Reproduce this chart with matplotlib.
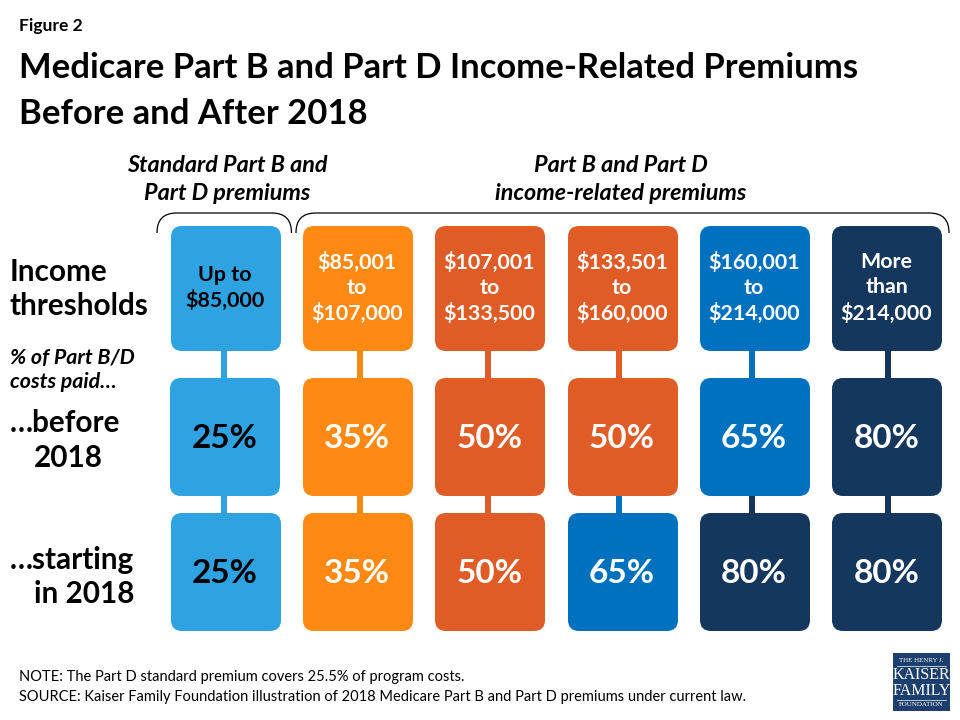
import matplotlib
matplotlib.use("Agg")
import matplotlib.pyplot as plt
from matplotlib.patches import FancyBboxPatch, Rectangle, PathPatch
from matplotlib.path import Path

plt.rcParams['font.family'] = ['Lato', 'DejaVu Sans']

thresholds = ["Up to\n$85,000", "$85,001\nto\n$107,000", "$107,001\nto\n$133,500",
              "$133,501\nto\n$160,000", "$160,001\nto\n$214,000", "More\nthan\n$214,000"]
before_2018 = [25, 35, 50, 50, 65, 80]
after_2018 = [25, 35, 50, 65, 80, 80]
pct_colors = {25: "#2FA3E2", 35: "#FF8912", 50: "#E05C27", 65: "#0071BF", 80: "#15375E"}
threshold_colors = ["#2FA3E2", "#FF8912", "#E05C27", "#E05C27", "#0071BF", "#15375E"]

col_left = [171, 303, 435, 568, 700, 832]
connector_x = [224, 360, 488, 619, 752, 888]
text_x = [225, 357, 489.5, 622, 754, 886.5]
col_w = 110
rows = [(226, 351), (378, 496), (513, 631)]

fig = plt.figure(figsize=(9.6, 7.2), dpi=100)
ax = fig.add_axes([0, 0, 1, 1])
ax.set_xlim(0, 960)
ax.set_ylim(720, 0)
ax.axis("off")

def box(x, y0, y1, color):
    r = 11
    ax.add_patch(FancyBboxPatch((x + r, y0 + r), col_w - 2 * r, y1 - y0 - 2 * r,
                                boxstyle=f"round,pad={r},rounding_size={r}",
                                fc=color, ec="none", zorder=3))

def text_color(color):
    return "black" if color == "#2FA3E2" else "white"

for i, x in enumerate(col_left):
    c0, c1, c2 = threshold_colors[i], pct_colors[before_2018[i]], pct_colors[after_2018[i]]
    ax.add_patch(Rectangle((connector_x[i] - 3, rows[0][1] - 1), 6, rows[1][0] - rows[0][1] + 2, fc=c0, ec="none", zorder=2))
    ax.add_patch(Rectangle((connector_x[i] - 3, rows[1][1] - 1), 6, rows[2][0] - rows[1][1] + 2, fc=c2, ec="none", zorder=2))
    box(x, *rows[0], c0)
    box(x - 1 if i == 0 else x, *rows[1], c1)
    box(x, *rows[2], c2)
    ax.text(text_x[i], 288, thresholds[i], ha="center", va="center", fontsize=15.4, fontweight="bold",
            color=text_color(c0), linespacing=1.32, zorder=4)
    ax.text(text_x[i], 439, f"{before_2018[i]}%", ha="center", va="center", fontsize=24, fontweight="bold",
            color=text_color(c1), zorder=4)
    ax.text(text_x[i], 573.5, f"{after_2018[i]}%", ha="center", va="center", fontsize=24, fontweight="bold",
            color=text_color(c2), zorder=4)

def brace(x0, x1, top=213, bottom=233):
    c = 20
    verts = [(x0, bottom), (x0, top + 7), (x0 + 6, top), (x0 + c, top),
             (x1 - c, top), (x1 - 6, top), (x1, top + 7), (x1, bottom)]
    codes = [Path.MOVETO, Path.CURVE4, Path.CURVE4, Path.CURVE4,
             Path.LINETO, Path.CURVE4, Path.CURVE4, Path.CURVE4]
    ax.add_patch(PathPatch(Path(verts, codes), fc="none", ec="black", lw=0.9))

brace(157, 291.5)
brace(296, 949)

ax.text(19, 26.5, "Figure 2", fontsize=12.6, fontweight="bold", va="center")
ax.text(19, 68.5, "Medicare Part B and Part D Income-Related Premiums", fontsize=24.9, fontweight="bold", va="center")
ax.text(19, 114.5, "Before and After 2018", fontsize=24.9, fontweight="bold", va="center")

ax.text(227.5, 179.5, "Standard Part B and\nPart D premiums", fontsize=16.8, fontweight="bold", style="italic",
        ha="center", va="center", linespacing=1.38)
ax.text(621, 179.5, "Part B and Part D\nincome-related premiums", fontsize=16.8, fontweight="bold", style="italic",
        ha="center", va="center", linespacing=1.38)

ax.text(10, 289, "Income\nthresholds", fontsize=21.4, fontweight="bold", va="center", linespacing=1.27)
ax.text(10, 370.5, "% of Part B/D\ncosts paid…", fontsize=15.4, fontweight="bold", style="italic", va="center", linespacing=1.25)
ax.text(10, 423.5, "…before", fontsize=21.4, fontweight="bold", va="center")
ax.text(34, 458, "2018", fontsize=21.4, fontweight="bold", va="center")
ax.text(10, 560, "…starting", fontsize=21.4, fontweight="bold", va="center")
ax.text(34, 594, "in 2018", fontsize=21.4, fontweight="bold", va="center")

ax.text(19, 677, "NOTE: The Part D standard premium covers 25.5% of program costs.", fontsize=10.53, va="center")
ax.text(19, 696.5, "SOURCE: Kaiser Family Foundation illustration of 2018 Medicare Part B and Part D premiums under current law.",
        fontsize=10.53, va="center")

# logo
ax.add_patch(Rectangle((893, 653), 57, 58, fc="#1D3F6E", ec="none"))
ax.text(921.5, 660, "THE HENRY J.", color="white", fontsize=5, family="Liberation Serif", ha="center", va="center")
ax.text(921.5, 675, "KAISER", color="white", fontsize=11.5, family="Liberation Serif", ha="center", va="center")
ax.text(921.5, 691, "FAMILY", color="white", fontsize=11.5, family="Liberation Serif", ha="center", va="center")
ax.text(921.5, 705, "FOUNDATION", color="white", fontsize=5, family="Liberation Serif", ha="center", va="center")
ax.plot([897, 946], [665.5, 665.5], color="white", lw=0.5)
ax.plot([897, 946], [699.5, 699.5], color="white", lw=0.5)

fig.savefig("out.png", dpi=100)
